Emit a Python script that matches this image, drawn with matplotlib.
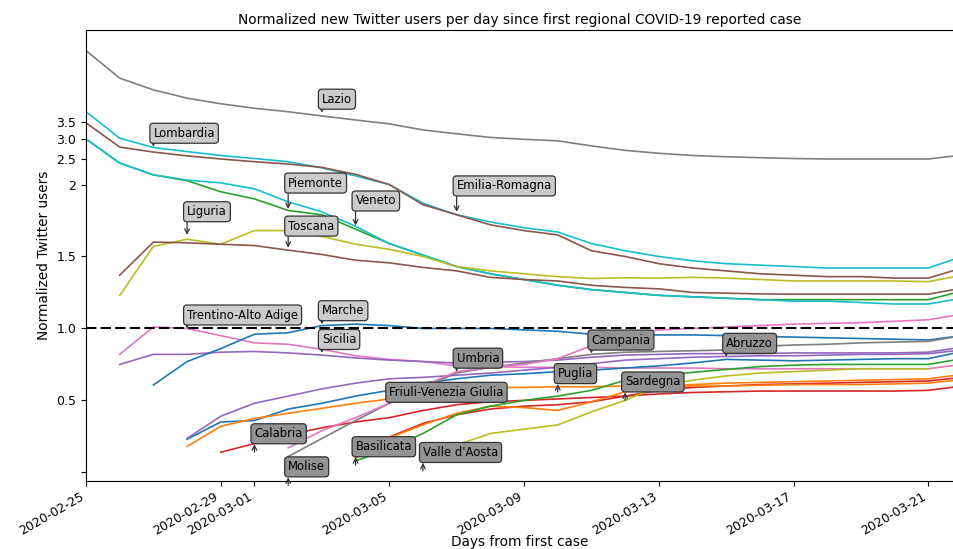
import numpy as np
import pandas as pd
import matplotlib
matplotlib.use('Agg')
import matplotlib.pyplot as plt
import matplotlib.dates as mdates
from matplotlib.ticker import NullLocator

# daily normalized new users, each series starts at its own first date
lazio_start = '2020-02-25'
lazio = [6.58, 5.15, 4.64, 4.31, 4.10, 3.94, 3.82, 3.68, 3.55, 3.43, 3.25, 3.14, 3.04, 2.99,
         2.95, 2.82, 2.71, 2.64, 2.59, 2.56, 2.54, 2.52, 2.51, 2.51, 2.51, 2.51, 2.60]
lombardia_start = '2020-02-25'
lombardia = [3.82, 3.02, 2.78, 2.68, 2.59, 2.52, 2.45, 2.32, 2.16, 2.00, 1.87, 1.79, 1.74, 1.70,
             1.67, 1.59, 1.54, 1.50, 1.47, 1.45, 1.44, 1.43, 1.42, 1.42, 1.42, 1.42, 1.50]
emilia_start = '2020-02-25'
emilia = [3.46, 2.79, 2.67, 2.58, 2.51, 2.45, 2.40, 2.33, 2.19, 2.00, 1.86, 1.79, 1.72, 1.68,
          1.65, 1.54, 1.50, 1.45, 1.42, 1.40, 1.38, 1.37, 1.36, 1.36, 1.35, 1.35, 1.42]
piemonte_start = '2020-02-25'
piemonte = [3.00, 2.42, 2.18, 2.07, 1.95, 1.90, 1.82, 1.79, 1.69, 1.59, 1.51, 1.43, 1.38, 1.34,
            1.30, 1.27, 1.25, 1.23, 1.22, 1.21, 1.20, 1.20, 1.20, 1.20, 1.20, 1.20, 1.26]
veneto_start = '2020-02-25'
veneto = [3.00, 2.42, 2.18, 2.08, 2.03, 1.97, 1.88, 1.81, 1.71, 1.59, 1.51, 1.43, 1.38, 1.34,
          1.30, 1.27, 1.25, 1.23, 1.22, 1.21, 1.20, 1.19, 1.19, 1.18, 1.17, 1.17, 1.21]
liguria_start = '2020-02-26'
liguria = [1.23, 1.57, 1.62, 1.585, 1.68, 1.68, 1.64, 1.585, 1.55, 1.50, 1.43, 1.40, 1.38,
           1.36, 1.347, 1.352, 1.35, 1.355, 1.35, 1.34, 1.33, 1.33, 1.33, 1.33, 1.325, 1.37]
toscana_start = '2020-02-26'
toscana = [1.37, 1.60, 1.595, 1.585, 1.576, 1.544, 1.514, 1.474, 1.456, 1.424, 1.40, 1.355,
           1.34, 1.33, 1.30, 1.285, 1.275, 1.25, 1.245, 1.24, 1.238, 1.238, 1.238, 1.238, 1.238, 1.28]
trentino_start = '2020-02-26'
trentino = [0.82, 1.01, 1.00, 0.95, 0.90, 0.89, 0.855, 0.81, 0.785, 0.77, 0.74, 0.735, 0.73,
            0.73, 0.73, 0.725, 0.725, 0.725, 0.72, 0.72, 0.72, 0.72, 0.72, 0.72, 0.72, 0.75]
sicilia_start = '2020-02-26'
sicilia = [0.75, 0.82, 0.82, 0.835, 0.84, 0.83, 0.815, 0.795, 0.78, 0.77, 0.76, 0.765, 0.77,
           0.78, 0.80, 0.815, 0.82, 0.825, 0.825, 0.825, 0.83, 0.83, 0.83, 0.83, 0.835, 0.87]
marche_start = '2020-02-27'
marche = [0.607, 0.77, 0.86, 0.96, 0.97, 1.02, 1.03, 1.02, 1.00, 1.00, 1.00, 0.99, 0.98, 0.96,
          0.955, 0.955, 0.955, 0.95, 0.945, 0.94, 0.935, 0.93, 0.925, 0.92, 0.95]
abruzzo_start = '2020-02-28'
abruzzo = [0.23, 0.35, 0.36, 0.44, 0.48, 0.53, 0.57, 0.62, 0.65, 0.675, 0.685, 0.70, 0.71,
           0.725, 0.74, 0.76, 0.785, 0.78, 0.775, 0.78, 0.785, 0.79, 0.79, 0.84]
friuli_start = '2020-02-28'
friuli = [0.236, 0.39, 0.48, 0.53, 0.58, 0.62, 0.65, 0.66, 0.675, 0.69, 0.71, 0.73, 0.755,
          0.78, 0.79, 0.80, 0.805, 0.81, 0.81, 0.815, 0.82, 0.82, 0.825, 0.85]
puglia_start = '2020-02-28'
puglia = [0.18, 0.32, 0.375, 0.41, 0.445, 0.48, 0.51, 0.55, 0.585, 0.59, 0.59, 0.595, 0.595,
          0.60, 0.60, 0.61, 0.62, 0.625, 0.63, 0.635, 0.64, 0.645, 0.65, 0.68]
calabria_start = '2020-02-29'
calabria = [0.14, 0.20, 0.26, 0.31, 0.35, 0.38, 0.43, 0.47, 0.49, 0.50, 0.51, 0.52, 0.53,
            0.545, 0.555, 0.56, 0.565, 0.565, 0.565, 0.565, 0.565, 0.57, 0.60]
umbria_start = '2020-03-02'
umbria = [0.11, 0.235, 0.36, 0.48, 0.59, 0.69, 0.73, 0.76, 0.79, 0.82, 0.835, 0.84, 0.845,
          0.85, 0.875, 0.885, 0.89, 0.90, 0.905, 0.91, 0.95]
campania_start = '2020-03-02'
campania = [0.17, 0.29, 0.38, 0.48, 0.60, 0.70, 0.73, 0.75, 0.79, 0.88, 0.96, 0.99, 1.00,
            1.01, 1.02, 1.03, 1.035, 1.04, 1.05, 1.06, 1.10]
basilicata_start = '2020-03-04'
basilicata = [0.10, 0.245, 0.34, 0.40, 0.44, 0.46, 0.47, 0.49, 0.53, 0.57, 0.59, 0.60, 0.61,
              0.615, 0.62, 0.625, 0.63, 0.635, 0.66]
sardegna_start = '2020-03-04'
sardegna = [0.10, 0.24, 0.33, 0.41, 0.46, 0.45, 0.43, 0.49, 0.56, 0.59, 0.60, 0.60, 0.605,
            0.61, 0.61, 0.61, 0.615, 0.62, 0.645]
molise_start = '2020-03-04'
molise = [0.08, 0.16, 0.27, 0.40, 0.46, 0.50, 0.53, 0.57, 0.64, 0.67, 0.695, 0.715, 0.735,
          0.745, 0.75, 0.75, 0.75, 0.75, 0.79]
valle_start = '2020-03-06'
valle = [0.065, 0.19, 0.27, 0.30, 0.33, 0.42, 0.50, 0.60, 0.64, 0.67, 0.69, 0.70, 0.71,
         0.72, 0.72, 0.72]

# label anchors
label_names = ['Lazio', 'Lombardia', 'Piemonte', 'Veneto', 'Liguria', 'Toscana',
               'Emilia-Romagna', 'Trentino-Alto Adige', 'Marche', 'Sicilia',
               'Umbria', 'Campania', 'Abruzzo', 'Friuli-Venezia Giulia',
               'Puglia', 'Sardegna', 'Calabria', 'Molise', 'Basilicata', "Valle d'Aosta"]
label_dates = ['2020-03-03', '2020-02-27', '2020-03-02', '2020-03-04', '2020-02-28',
               '2020-03-02', '2020-03-07', '2020-02-28', '2020-03-03', '2020-03-03',
               '2020-03-07', '2020-03-11', '2020-03-15', '2020-03-05',
               '2020-03-10', '2020-03-12', '2020-03-01', '2020-03-02', '2020-03-04',
               '2020-03-06']
label_values = [3.79, 2.80, 1.83, 1.715, 1.65, 1.56, 1.81, 1.0, 1.03, 0.83,
                0.70, 0.826, 0.803, 0.48,
                0.558, 0.50, 0.14, -0.09, 0.05, 0.01]

xtick_dates = ['2020-02-25', '2020-02-29', '2020-03-01', '2020-03-05', '2020-03-09',
               '2020-03-13', '2020-03-17', '2020-03-21']
ytick_values = [0, 0.5, 1.0, 1.5, 2, 2.5, 3.0, 3.5]
ytick_labels = ['', '0.5', '1.0', '1.5', '2', '2.5', '3.0', '3.5']

series = [
    (lazio_start, lazio, 'tab:gray'),
    (lombardia_start, lombardia, 'tab:cyan'),
    (emilia_start, emilia, 'tab:brown'),
    (piemonte_start, piemonte, 'tab:green'),
    (veneto_start, veneto, 'tab:cyan'),
    (liguria_start, liguria, 'tab:olive'),
    (toscana_start, toscana, 'tab:brown'),
    (trentino_start, trentino, 'tab:pink'),
    (sicilia_start, sicilia, 'tab:purple'),
    (marche_start, marche, 'tab:blue'),
    (abruzzo_start, abruzzo, 'tab:blue'),
    (friuli_start, friuli, 'tab:purple'),
    (puglia_start, puglia, 'tab:orange'),
    (calabria_start, calabria, 'tab:red'),
    (umbria_start, umbria, 'tab:gray'),
    (campania_start, campania, 'tab:pink'),
    (basilicata_start, basilicata, 'tab:red'),
    (sardegna_start, sardegna, 'tab:orange'),
    (molise_start, molise, 'tab:green'),
    (valle_start, valle, 'tab:olive'),
]

# label style: text offset above anchor (pt), light/dark box, arrow pointing up or down
label_offset = [5, 5, 14, 13, 12, 11, 14, 5, 5, 5, 5, 5, 5, 3.2, 8.6, 8.6, 8.6, 8.6, 8.6, 8.6]
label_light = [True] * 10 + [False] * 10
label_up = [False] * 14 + [True] * 6

fig = plt.figure(figsize=(9.54, 5.49), dpi=100)
ax = fig.add_axes([86 / 954, 68.3 / 549, 868 / 954, 450.7 / 549])

for start, vals, col in series:
    x = pd.date_range(start, periods=len(vals), freq='D')
    ax.plot(x, vals, color=col, lw=1.2)

ax.axhline(1.0, color='black', lw=1.5, linestyle=(0, (5, 2)))

ax.set_yscale('symlog', linthresh=2)
ax.set_yticks(ytick_values)
ax.set_yticklabels(ytick_labels)
ax.yaxis.set_minor_locator(NullLocator())
ax.set_ylim(-0.058, 7.9)

first = mdates.date2num(pd.Timestamp('2020-02-25'))
ax.set_xlim(first, first + 25.76)
ax.set_xticks(mdates.date2num(pd.to_datetime(xtick_dates)))
ax.xaxis.set_major_formatter(mdates.DateFormatter('%Y-%m-%d'))
for lab in ax.get_xticklabels():
    lab.set_rotation(30)
    lab.set_ha('right')
ax.tick_params(labelsize=9)
ax.spines['right'].set_visible(False)

for name, d, v, off, light, up in zip(label_names, label_dates, label_values,
                                      label_offset, label_light, label_up):
    fc = '#cbcbcb' if light else '#939393'
    ax.annotate(name, xy=(mdates.date2num(pd.Timestamp(d)), v),
                xytext=(0, off), textcoords='offset points',
                ha='left', va='bottom', fontsize=8.4,
                bbox=dict(boxstyle='round,pad=0.3', fc=fc, ec='#333333', lw=0.9),
                arrowprops=dict(arrowstyle='<-' if up else '->', color='#333333',
                                lw=0.9, shrinkA=0, shrinkB=0, relpos=(0, 0)),
                annotation_clip=False)

ax.set_title('Normalized new Twitter users per day since first regional COVID-19 reported case',
             fontsize=9.9, pad=4)
ax.set_xlabel('Days from first case', fontsize=9.8)
ax.xaxis.set_label_coords(0.5, -0.121)
ax.set_ylabel('Normalized Twitter users', fontsize=9.8)

fig.savefig('out.png', dpi=100)
